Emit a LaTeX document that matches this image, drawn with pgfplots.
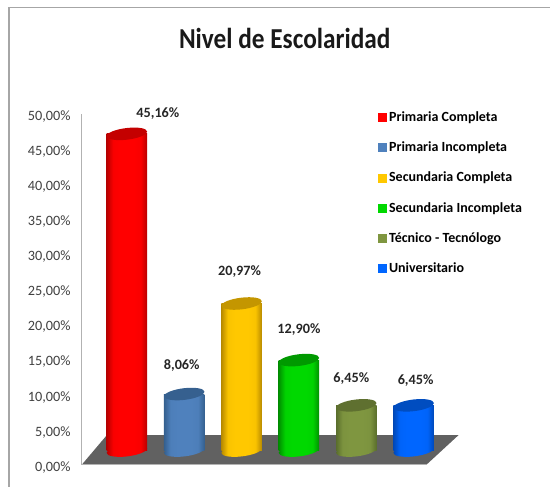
\documentclass[border=0pt]{standalone}
\usepackage{graphicx}
\usepackage{pgfplots}
\pgfplotsset{compat=1.18}
\usepackage{fontspec}
\setmainfont{Carlito}
\definecolor{cred}{HTML}{FF0000}\definecolor{credd}{HTML}{B80000}\definecolor{credt}{HTML}{C40000}
\definecolor{cblu}{HTML}{4F81BD}\definecolor{cblud}{HTML}{34608F}\definecolor{cblut}{HTML}{36608F}
\definecolor{cyel}{HTML}{FFC800}\definecolor{cyeld}{HTML}{B88A00}\definecolor{cyelt}{HTML}{C49600}
\definecolor{cgre}{HTML}{00D800}\definecolor{cgred}{HTML}{009000}\definecolor{cgret}{HTML}{009900}
\definecolor{coli}{HTML}{7F9640}\definecolor{colid}{HTML}{5A6E2C}\definecolor{colit}{HTML}{5F7030}
\definecolor{cuni}{HTML}{0066FF}\definecolor{cunid}{HTML}{0048B8}\definecolor{cunit}{HTML}{004DC0}
\newcommand\mkcyl[1]{%
 \pgfdeclarehorizontalshading{sh#1}{100bp}{color(0bp)=(c#1d); color(25bp)=(c#1d); color(33bp)=(c#1!92!c#1d); color(42bp)=(c#1); color(58bp)=(c#1); color(67bp)=(c#1!92!c#1d); color(75bp)=(c#1d); color(100bp)=(c#1d)}%
 \pgfdeclareplotmark{bot#1}{\pgfpathellipse{\pgfpointorigin}{\pgfqpoint{15.2pt}{1.7pt}}{\pgfqpoint{0pt}{4.4pt}}\pgfshadepath{sh#1}{0}\pgfusepath{discard}}%
 \pgfdeclareplotmark{top#1}{\pgfsetfillcolor{c#1t}\pgfpathellipse{\pgfpointorigin}{\pgfqpoint{15.2pt}{1.7pt}}{\pgfqpoint{0pt}{4.4pt}}\pgfusepathqfill}}
\mkcyl{red}\mkcyl{blu}\mkcyl{yel}\mkcyl{gre}\mkcyl{oli}\mkcyl{uni}
\pgfplotsset{
 cyl/.style={ybar,bar width=30.4pt,bar shift=0pt,draw=none,yshift=10.5pt,forget plot,
   /tikz/shade,/tikz/shading=sh#1},
 cbot/.style={only marks,mark=bot#1,yshift=10.5pt,forget plot},
 ctop/.style={only marks,mark=top#1,yshift=10.5pt,forget plot},
 lab/.style n args={3}{nodes near coords={\textbf{#1}},nodes near coords align={center},
   every node near coord/.append style={xshift=#2*0.75pt,yshift=(#3-1.5)*0.75pt,font=\fontsize{10.7}{12}\selectfont,text=black!85,inner sep=0pt}},
 sqleg/.style={legend image code/.code={\fill[#1] (0pt,-3pt) rectangle (6pt,3pt);}},
}
\begin{document}
\begin{tikzpicture}[x=0.75pt,y=-0.75pt]
\path (0,0) rectangle (551,487);
\draw[gray!70,line width=0.8pt] (9,487) -- (9,7.5) -- (551,7.5);
\fill[black!62] (82,465) -- (107,435.5) -- (459,435.5) -- (427,465) -- cycle;
\node[font=\bfseries\fontsize{21.7}{24}\selectfont,text=black!90] at (285,39) {\scalebox{0.875}[1]{Nivel de Escolaridad}};
\coordinate (O) at (82,465);
\begin{axis}[
 at={(O)},anchor=south west,scale only axis,width=258.75pt,height=263.25pt,
 xmin=-0.784,xmax=5.226,ymin=0,ymax=50,clip=false,
 xtick=\empty,ytick={0,5,...,50},major tick length=0pt,
 axis y line=left,axis x line=bottom,axis line style={-,draw=gray!60,line width=0.7pt},
 /pgf/number format/.cd,assume math mode=true,fixed,fixed zerofill,precision=2,use comma,
 /pgfplots/.cd,
 yticklabel={\pgfmathprintnumber{\tick}\%},
 yticklabel style={font=\fontsize{10.7}{12}\selectfont,text=black!75,xshift=-5pt,yshift=-2pt},
 legend style={at={(0.858,1.016)},anchor=north west,draw=none,fill=none,inner sep=0pt,
   font=\bfseries\fontsize{10.5}{12}\selectfont,row sep=9.9pt,
   /tikz/every even column/.append style={column sep=2pt}},
 legend cell align=left,
]
\addlegendimage{sqleg=cred}
\addlegendimage{sqleg=cblu}
\addlegendimage{sqleg=cyel}
\addlegendimage{sqleg=cgre}
\addlegendimage{sqleg=coli}
\addlegendimage{sqleg=cuni}
\legend{Primaria Completa,Primaria Incompleta,Secundaria Completa,Secundaria Incompleta,Técnico - Tecnólogo,Universitario}
\addplot[cyl=red] coordinates {(0,45.16)};
\addplot[cbot=red] coordinates {(0,0)};
\addplot[ctop=red,lab={45,16\%}{31}{22}] coordinates {(0,45.16)};
\addplot[cyl=blu] coordinates {(1,8.06)};
\addplot[cbot=blu] coordinates {(1,0)};
\addplot[ctop=blu,lab={8,06\%}{-2.5}{30}] coordinates {(1,8.06)};
\addplot[cyl=yel] coordinates {(2,20.97)};
\addplot[cbot=yel] coordinates {(2,0)};
\addplot[ctop=yel,lab={20,97\%}{-2}{33}] coordinates {(2,20.97)};
\addplot[cyl=gre] coordinates {(3,12.90)};
\addplot[cbot=gre] coordinates {(3,0)};
\addplot[ctop=gre,lab={12,90\%}{0}{32}] coordinates {(3,12.90)};
\addplot[cyl=oli] coordinates {(4,6.45)};
\addplot[cbot=oli] coordinates {(4,0)};
\addplot[ctop=oli,lab={6,45\%}{-5}{28}] coordinates {(4,6.45)};
\addplot[cyl=uni] coordinates {(5,6.45)};
\addplot[cbot=uni] coordinates {(5,0)};
\addplot[ctop=uni,lab={6,45\%}{2}{26}] coordinates {(5,6.45)};
\end{axis}
\end{tikzpicture}
\end{document}
